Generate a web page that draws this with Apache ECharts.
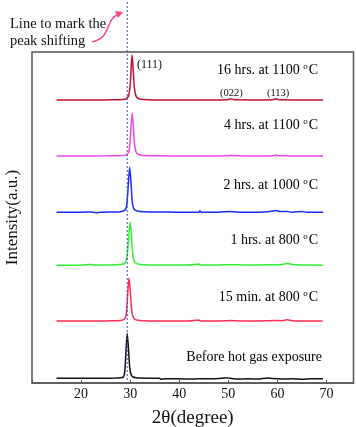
<!DOCTYPE html>
<html>
<head>
    <meta charset="utf-8">
    <title>XRD peak shifting</title>
    <script src="https://cdn.jsdelivr.net/npm/echarts@6/dist/echarts.min.js"></script>
    <style>
        html, body { margin: 0; padding: 0; background: #fff; }
        #main { width: 356px; height: 427px; }
    </style>
</head>
<body>
<div id="main"></div>
<script type="text/javascript">
    // x tick labels
    var xTicks = [20, 30, 40, 50, 60, 70];
    var markPos = 29.4; // dashed line position (2theta)

    // sample names, bottom to top
    var names = ['Before hot gas exposure', '15 min. at 800', '1 hrs. at 800',
        '2 hrs. at 1000', '4 hrs. at 1100', '16 hrs. at 1100'];
    var colors = ['#111111', '#ff2a55', '#2ef02e', '#1a2cff', '#ee48ee', '#c0142e'];
    // vertical offset of each pattern (a.u. of the hidden y axis)
    var offsets = [1.4, 18.7, 35.6, 51.6, 68.6, 85.5];
    var scale = 0.136;

    // [2theta, intensity]
    var before = [[15, 0], [20, 0], [25, 0.3], [27, 0.6], [28, 1.2], [28.6, 3], [28.9, 15], [29.2, 70], [29.4, 100],
        [29.6, 75], [29.9, 25], [30.2, 8], [30.6, 3], [31.2, 1.5], [32, 0.8], [34, 0.4], [36, 0], [36.3, -2],
        [37, -1], [40, -1], [42, -1.5], [44, -1], [46, -1], [48, -0.5], [49.5, 1.5], [50.5, 0], [52, -1.5],
        [54, -1], [56, -1.5], [58, 0.8], [59, -0.5], [61, -1.5], [63, -1], [65, -2], [67, -1], [69.3, -1]];
    var min15 = [[15, 0], [20, 0.3], [25, 0.5], [27, 1], [28, 1.5], [28.8, 4], [29.2, 15], [29.5, 60], [29.75, 96],
        [30, 70], [30.3, 25], [30.6, 9], [31, 4], [31.6, 2], [32.5, 1], [35, 0.5], [38, 0.3], [42, 0.3],
        [44, 2.5], [44.3, 0.3], [48, 0.3], [50.5, 1.5], [53, 0.3], [56, 0.5], [59.5, 1.5], [61, 1], [62, 3],
        [63, 1], [65, 0.3], [69.2, 0]];
    var hrs1 = [[15, 0], [20, 0.2], [22, 1.5], [23, 0.5], [25, 0.5], [27, 1], [28, 1.5], [28.9, 4], [29.3, 15],
        [29.7, 60], [30, 96], [30.25, 68], [30.5, 25], [30.8, 9], [31.2, 4], [31.8, 2], [32.7, 1], [35, 0.5],
        [38, 0.3], [42, 0.3], [44, 2.5], [44.3, 0.3], [48, 0.3], [50.5, 1], [53, 0.3], [56, 0.5], [59.5, 1],
        [61, 1.5], [62, 3.5], [63, 1.5], [65, 0.3], [69.2, 0]];
    var hrs2 = [[15, 0], [20, 0], [22, 0.5], [23, -1], [24, 0], [27, 0.6], [28, 1.2], [28.9, 4], [29.3, 15],
        [29.65, 65], [29.9, 100], [30.15, 70], [30.4, 25], [30.7, 9], [31.1, 4], [31.7, 2], [32.6, 1], [35, 0.5],
        [38, 0.3], [40, 0], [44, 0], [44.2, 3], [44.5, 0], [48, 0], [50.3, 1.5], [52, 0], [56, 0], [58.5, 1.5],
        [59.6, 4], [60.6, 1.5], [62, 1.5], [63, 0], [65, 1.5], [66, 0], [69.3, 0]];
    var hrs4 = [[15, 0], [20, 0], [25, 0.2], [27, 0.5], [28.5, 1], [29.3, 3], [29.8, 12], [30.1, 50], [30.4, 96],
        [30.65, 65], [30.9, 25], [31.2, 9], [31.6, 4], [32.3, 1.5], [33.5, 0.6], [36, 0.2], [40, 0], [45, 0],
        [50, 0.5], [50.5, 1.5], [51.2, 0.3], [55, 0], [59, 0.5], [59.6, 1.8], [60.3, 0.3], [64, 0], [69.3, 0]];
    var hrs16 = [[15, 0], [20, 0], [25, 0.2], [27, 0.5], [28.5, 1], [29.2, 3], [29.7, 10], [30.05, 40],
        [30.25, 80], [30.4, 100], [30.6, 70], [30.85, 28], [31.15, 10], [31.5, 4], [32.2, 1.5], [33.5, 0.6],
        [36, 0.2], [40, 0], [45, 0], [49.8, 0.5], [50.5, 2.5], [51.3, 0.3], [55, 0], [59, 0.5], [59.7, 2.5],
        [60.4, 0.3], [64, 0], [69.3, 0]];
    var patterns = [before, min15, hrs1, hrs2, hrs4, hrs16];

    // label positions in pixel space, as in the original figure
    var labelY = [357, 297, 240, 185, 125, 70];

    var myChart = echarts.init(document.getElementById('main'));

    var series = patterns.map(function (p, i) {
        return {
            name: names[i],
            type: 'line',
            showSymbol: false,
            smooth: 0.2,
            silent: true,
            lineStyle: {color: colors[i], width: 1.5},
            data: p.map(function (d) {
                return [d[0], offsets[i] + d[1] * scale];
            })
        };
    });

    var option = {
        animation: false,
        grid: {
            left: 32, right: 2.5, top: 52, bottom: 44,
            containLabel: false,
            outerBoundsMode: 'none',
            show: true, borderColor: '#555', borderWidth: 1.5
        },
        xAxis: {
            type: 'value',
            min: 10, max: 75.5, interval: 10,
            name: '2θ(degree)',
            nameLocation: 'middle',
            nameGap: 26,
            nameTextStyle: {fontFamily: 'Liberation Serif', fontSize: 19, color: '#111'},
            axisLine: {show: true, lineStyle: {color: '#555', width: 1.5}},
            axisTick: {show: true, inside: true, length: 3, lineStyle: {color: '#555'}},
            splitLine: {show: false},
            axisLabel: {
                fontFamily: 'Liberation Serif', fontSize: 14, color: '#111', margin: 4,
                formatter: function (v) { return xTicks.indexOf(v) >= 0 ? String(v) : ''; }
            }
        },
        yAxis: {
            type: 'value',
            min: 0, max: 100,
            name: 'Intensity(a.u.)',
            nameLocation: 'middle',
            nameGap: 11,
            nameTextStyle: {fontFamily: 'Liberation Serif', fontSize: 17, color: '#111'},
            axisLine: {show: false},
            axisTick: {show: false},
            axisLabel: {show: false},
            splitLine: {show: false}
        },
        series: series
    };
    myChart.setOption(option);

    // graphics: labels, dashed marker line, annotation arrow
    var gx = myChart.convertToPixel({xAxisIndex: 0}, markPos);
    var yBottom = myChart.convertToPixel({yAxisIndex: 0}, 0);
    var serif = 'Liberation Serif';
    var graphics = [];

    names.forEach(function (n, i) {
        var txt = i === 0 ? '{n|' + n + '}' : '{n|' + n + ' }{s|o}{n|C}';
        graphics.push({
            type: 'text',
            x: i === 0 ? 322 : 318,
            y: labelY[i],
            style: {
                text: txt,
                align: 'right',
                verticalAlign: 'middle',
                rich: {
                    n: {fontFamily: serif, fontSize: 14, color: '#111', lineHeight: 16},
                    s: {fontFamily: serif, fontSize: 9, color: '#111', verticalAlign: 'top', lineHeight: 16, padding: [0, 1, 6, 0]}
                }
            }
        });
    });

    var hkl = [['(111)', 137, 65], ['(022)', 220, 93], ['(113)', 267, 93]];
    hkl.forEach(function (h) {
        graphics.push({
            type: 'text', x: h[1], y: h[2],
            style: {text: h[0], fontFamily: serif, fontSize: h[0] === '(111)' ? 12 : 10.5,
                fill: '#111', verticalAlign: 'middle'}
        });
    });

    graphics.push({
        type: 'line',
        shape: {x1: gx, y1: 2, x2: gx, y2: yBottom},
        style: {stroke: '#3a4ad8', lineWidth: 1, lineDash: [2, 2]},
        z: 10
    });

    graphics.push({
        type: 'text', x: 10, y: 24,
        style: {text: 'Line to mark the', fontFamily: serif, fontSize: 14.5, fill: '#111', verticalAlign: 'middle'}
    });
    graphics.push({
        type: 'text', x: 10, y: 41,
        style: {text: 'peak shifting', fontFamily: serif, fontSize: 14.5, fill: '#111', verticalAlign: 'middle'}
    });
    graphics.push({
        type: 'bezierCurve',
        shape: {x1: 92, y1: 42, cpx1: 112, cpy1: 38, cpx2: 104, cpy2: 20, x2: 119, y2: 14},
        style: {stroke: '#ff4488', lineWidth: 1.5, fill: null}
    });
    graphics.push({
        type: 'polygon',
        shape: {points: [[123, 12], [115, 11], [118, 18]]},
        style: {fill: '#ff4488'}
    });

    myChart.setOption({graphic: graphics});
</script>
</body>
</html>
